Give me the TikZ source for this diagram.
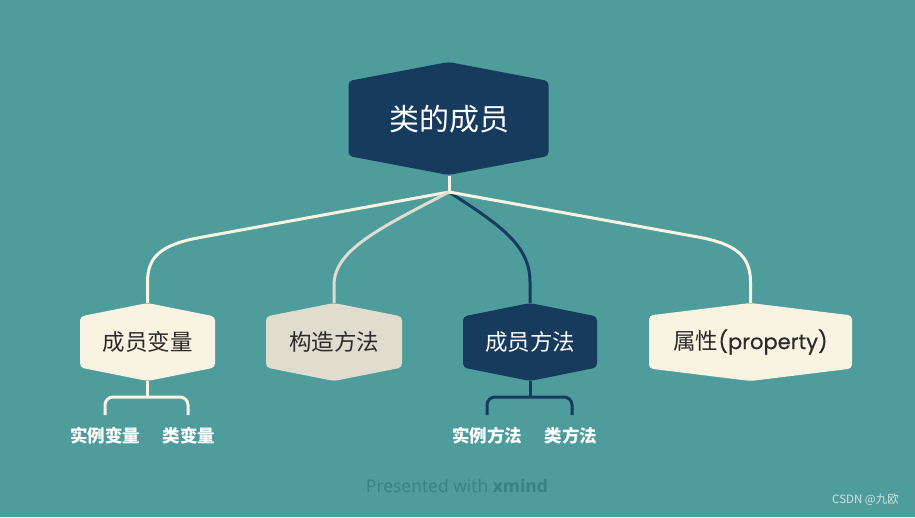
\documentclass[tikz,border=0pt]{standalone}
\usepackage{fontspec}
\newfontfamily\cjk{Noto Sans CJK SC}
\newfontfamily\pop[FakeBold=0.5]{Poppins}
\newfontfamily\ofont{Open Sans}
\definecolor{bg}{HTML}{4E9C9C}
\definecolor{navy}{HTML}{163B5C}
\definecolor{cream}{HTML}{F8F4E1}
\definecolor{beige}{HTML}{E0DDCF}
\definecolor{dark}{HTML}{2A2A2A}
\definecolor{wm}{HTML}{3A8282}
\definecolor{csdn}{HTML}{D5E3E3}
\newcommand\hexfill[6]{\fill[#6,rounded corners=4pt] ({#1-#3},{#2-#4}) -- (#1,{#2-#5}) -- ({#1+#3},{#2-#4}) -- ({#1+#3},{#2+#4}) -- (#1,{#2+#5}) -- ({#1-#3},{#2+#4}) -- cycle;}
\tikzset{
  hexlab/.style={inner sep=0pt, minimum height=78pt, font=\cjk\fontsize{22.5}{26}\selectfont},
  sublab/.style={inner sep=0pt, text=white, font=\cjk\bfseries\fontsize{17.5}{20}\selectfont},
  creamline/.style={draw=cream, line width=3pt},
  navyline/.style={draw=navy, line width=3pt},
}
\begin{document}
\begin{tikzpicture}[x=1pt,y=-1pt]
\useasboundingbox (0,0) rectangle (915,517);
\fill[bg] (0,0) rectangle (915,517);
% hexagon backgrounds
\hexfill{448.5}{118.5}{100}{37.5}{56.5}{navy}
\hexfill{147.5}{342}{67.5}{25.5}{39}{cream}
\hexfill{334}{342}{68}{25.5}{39}{beige}
\hexfill{530}{342}{67}{25.5}{39}{navy}
\hexfill{750.5}{342}{101.5}{26.5}{39}{cream}
% nodes
\node[inner sep=0pt, minimum height=113pt, text=white, font=\cjk\fontsize{30}{33}\selectfont] (root) at (449,119) {类的成员};
\node[hexlab, text=dark] (m1) at (147.5,342) {成员变量};
\node[hexlab, text=dark] (m2) at (334,342) {构造方法};
\node[hexlab, text=white] (m3) at (530,342) {成员方法};
\node[hexlab, text=dark] (m4) at (750.5,342) {属性{\pop\fontsize{21}{24}\selectfont(property)}};
\node[sublab] (s1) at (105,436) {实例变量};
\node[sublab] (s2) at (189,436) {类变量};
\node[sublab] (s3) at (487,436) {实例方法};
\node[sublab] (s4) at (571,436) {类方法};
% junction and connector coordinates
\coordinate (j) at (449,192);
\coordinate (b1) at (147.5,397);
\coordinate (b3) at (530,397);
\coordinate (e1) at (105,415);
\coordinate (e2) at (188,415);
\coordinate (e3) at (487,415);
\coordinate (e4) at (572,415);
% connectors
\draw[navyline] (j) .. controls (500,225) and (530,245) .. (530,282) -- (m3.north);
\draw[creamline] (root.south) -- (j);
\draw[creamline] (j) -- (200,237.5) .. controls (162,244.5) and (147.5,256) .. (147.5,282) -- (m1.north);
\draw[draw=beige, line width=3pt] (j) .. controls (380,228) and (334,250) .. (334,285) -- (m2.north);
\draw[creamline] (j) -- (698,237) .. controls (736,244) and (750.5,256) .. (750.5,282) -- (m4.north);
% brackets
\draw[creamline] (m1.south) -- (b1);
\draw[creamline, rounded corners=8pt] (e1) -- (e1 |- b1) -- (e2 |- b1) -- (e2);
\draw[navyline] (m3.south) -- (b3);
\draw[navyline, rounded corners=8pt] (e3) -- (e3 |- b3) -- (e4 |- b3) -- (e4);
% footer
\node[text=wm, font=\ofont\fontsize{17.5}{20}\selectfont, inner sep=0pt] (pw) at (457,486) {Presented with \textbf{xmind}};
\node[text=csdn, font=\cjk\fontsize{11.5}{13}\selectfont, inner sep=0pt, anchor=east] (cs) at (899,500) {CSDN @九欧};
\end{tikzpicture}
\end{document}
